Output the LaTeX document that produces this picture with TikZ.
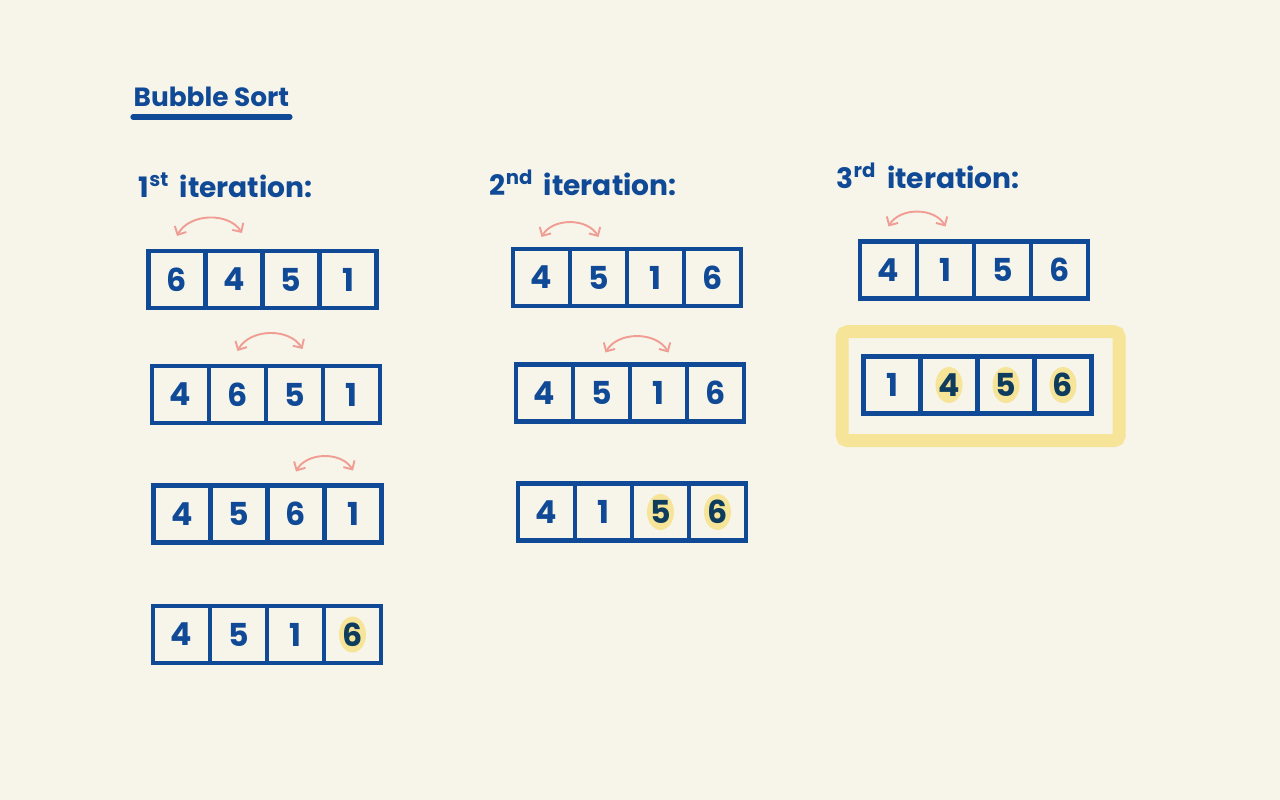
\documentclass[tikz,border=0pt]{standalone}
\usepackage{fontspec}
\setmainfont{Poppins}
\usetikzlibrary{arrows.meta,fit}

\definecolor{paper}{RGB}{247,245,234}
\definecolor{ink}{RGB}{16,74,150}
\definecolor{inkdark}{RGB}{14,60,92}
\definecolor{arc}{RGB}{240,158,148}
\definecolor{marker}{RGB}{246,228,152}

\begin{document}
\begin{tikzpicture}[x=0.02cm, y=-0.02cm, thick]
\tikzstyle{cell}=[draw=ink, line width=2.8pt, rectangle, minimum width=1.14cm, minimum height=1.14cm,
  inner sep=0pt, outer sep=0pt, text=ink, font=\fontsize{18}{20}\selectfont\bfseries]
\tikzstyle{done}=[cell, text=inkdark, path picture={\fill[marker] (path picture bounding box.center) ellipse (0.27cm and 0.36cm);}]
\tikzstyle{heading}=[anchor=west, text=ink, inner sep=0pt, font=\fontsize{16}{18}\selectfont\bfseries]
\tikzstyle{swaparc}=[{Straight Barb[length=1.3mm,width=2.6mm]}-{Straight Barb[length=1.3mm,width=2.6mm]}, draw=arc, line width=1.1pt, bend left=60]

\fill[paper] (0,0) rectangle (1280,800);

\node[heading, font=\fontsize{15}{17}\selectfont\bfseries] (title) at (133,97) {Bubble Sort};
\draw[ink, line width=3pt, line cap=round] ([yshift=-0.4cm]title.west) -- ([yshift=-0.4cm]title.east);

\node[heading] (h1) at (138,185) {1\textsuperscript{st}\, iteration:};
\node[heading] (h2) at (489,183) {2\textsuperscript{nd}\, iteration:};
\node[heading] (h3) at (836,176) {3\textsuperscript{rd}\, iteration:};

% 1st iteration
\node[cell] (a11) at (177,279.5) {6};
\node[cell] (a12) at (234,279.5) {4};
\node[cell] (a13) at (291,279.5) {5};
\node[cell] (a14) at (348,279.5) {1};

\node[cell] (a21) at (180.5,394.5) {4};
\node[cell] (a22) at (237.5,394.5) {6};
\node[cell] (a23) at (294.5,394.5) {5};
\node[cell] (a24) at (351.5,394.5) {1};

\node[cell] (a31) at (182,514) {4};
\node[cell] (a32) at (239,514) {5};
\node[cell] (a33) at (296,514) {6};
\node[cell] (a34) at (353,514) {1};

\node[cell] (a41) at (181.5,634.5) {4};
\node[cell] (a42) at (238.5,634.5) {5};
\node[cell] (a43) at (295.5,634.5) {1};
\node[done] (a44) at (352.5,634.5) {6};

% 2nd iteration
\node[cell] (b11) at (541.5,277.5) {4};
\node[cell] (b12) at (598.5,277.5) {5};
\node[cell] (b13) at (655.5,277.5) {1};
\node[cell] (b14) at (712.5,277.5) {6};

\node[cell] (b21) at (544.5,393) {4};
\node[cell] (b22) at (601.5,393) {5};
\node[cell] (b23) at (658.5,393) {1};
\node[cell] (b24) at (715.5,393) {6};

\node[cell] (b31) at (546.5,512) {4};
\node[cell] (b32) at (603.5,512) {1};
\node[done] (b33) at (660.5,512) {5};
\node[done] (b34) at (717.5,512) {6};

% 3rd iteration
\node[cell] (c11) at (888.5,270) {4};
\node[cell] (c12) at (945.5,270) {1};
\node[cell] (c13) at (1002.5,270) {5};
\node[cell] (c14) at (1059.5,270) {6};

\node[cell] (c21) at (892,385) {1};
\node[done] (c22) at (949,385) {4};
\node[done] (c23) at (1006,385) {5};
\node[done] (c24) at (1063,385) {6};

\node[draw=marker, line width=7.4pt, rounded corners=3pt, inner xsep=0.49cm, inner ysep=0.52cm,
  xshift=1.8pt, yshift=-0.7pt, fit=(c21)(c24)] (sorted) {};

% swaps
\draw[swaparc] ([yshift=0.3cm]a11.north) to ([shift={(0.16cm,0.36cm)}]a12.north);
\draw[swaparc] ([yshift=0.3cm]a22.north) to ([shift={(0.16cm,0.34cm)}]a23.north);
\draw[swaparc] ([yshift=0.28cm]a33.north) to ([yshift=0.3cm]a34.north);
\draw[swaparc] ([yshift=0.24cm]b11.north) to ([yshift=0.24cm]b12.north);
\draw[swaparc] ([shift={(0.08cm,0.24cm)}]b22.north) to ([shift={(0.2cm,0.24cm)}]b23.north);
\draw[swaparc] ([yshift=0.3cm]c11.north) to ([yshift=0.3cm]c12.north);
\end{tikzpicture}
\end{document}
